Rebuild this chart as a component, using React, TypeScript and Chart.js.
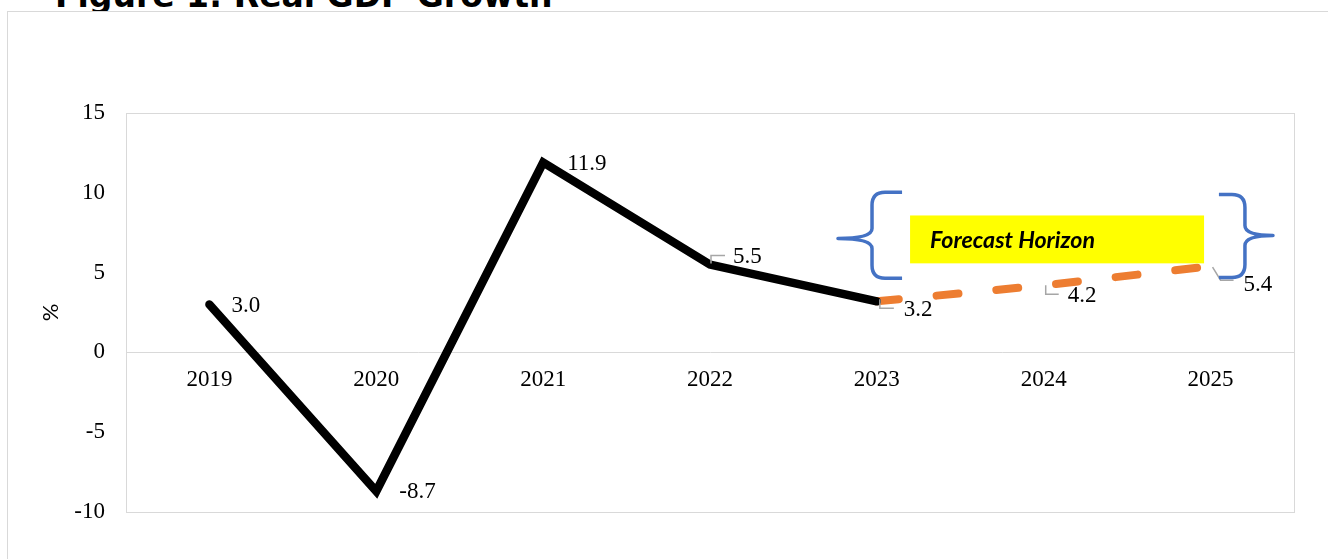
import React, { useEffect, useRef } from 'react';
import { Chart, registerables } from 'chart.js';

Chart.register(...registerables);

// ---- data ----
const chartTitle = 'Figure 1: Real GDP Growth';
const years = ['2019', '2020', '2021', '2022', '2023', '2024', '2025'];
const actualGrowth: (number | null)[] = [3.0, -8.7, 11.9, 5.5, 3.2, null, null];
const forecastGrowth: (number | null)[] = [null, null, null, null, 3.2, 4.2, 5.4];
const yMin = -10;
const yMax = 15;
const yStep = 5;
const yAxisTitle = '%';
const annotationText = 'Forecast Horizon';

// ---- label placement (style, in px relative to point) ----
const labelPlacement: { dx: number; dy: number; leader?: number[][] }[] = [
  { dx: 22, dy: 1 },
  { dx: 23, dy: 1 },
  { dx: 24, dy: 1 },
  { dx: 23, dy: -8, leader: [[1, -1], [1, -9], [15, -9]] },
  { dx: 27, dy: 9, leader: [[3, -2], [3, 7], [17, 7]] },
  { dx: 24, dy: 11, leader: [[2, 0], [2, 9], [15, 9]] },
  { dx: 33, dy: 19, leader: [[2, 1], [10, 14], [23, 14]] },
];

// annotation geometry in axis units (category index / value)
const boxArea = { x0: 4.199, x1: 5.961, yTop: 8.58, yBottom: 5.58 };
const leftBrace = { tip: 3.767, stem: 3.971, arm: 4.151, top: 10.03, bottom: 4.64, mid: 7.14 };
const rightBrace = { tip: 6.374, stem: 6.206, arm: 6.05, top: 9.9, bottom: 4.7, mid: 7.33 };

const serif = '"Liberation Serif", "Times New Roman", serif';

const decorPlugin = {
  id: 'decor',
  beforeDatasetsDraw(chart: any) {
    const { ctx, chartArea: a } = chart;
    ctx.save();
    ctx.strokeStyle = '#d9d9d9';
    ctx.lineWidth = 1;
    ctx.strokeRect(Math.round(a.left) + 0.5, Math.round(a.top) + 0.5, Math.round(a.right - a.left), Math.round(a.bottom - a.top));
    ctx.restore();
  },
  afterDatasetsDraw(chart: any) {
    const { ctx } = chart;
    ctx.save();
    ctx.font = `23px ${serif}`;
    ctx.fillStyle = '#000';
    ctx.textAlign = 'left';
    ctx.textBaseline = 'middle';
    for (let i = 0; i < years.length; i++) {
      const dsIndex = actualGrowth[i] != null ? 0 : 1;
      const value = actualGrowth[i] != null ? actualGrowth[i] : forecastGrowth[i];
      if (value == null) continue;
      const el = chart.getDatasetMeta(dsIndex).data[i];
      const p = labelPlacement[i];
      if (p.leader) {
        ctx.beginPath();
        ctx.strokeStyle = '#a6a6a6';
        ctx.lineWidth = 1.5;
        p.leader.forEach((pt, k) => {
          const X = el.x + pt[0];
          const Y = el.y + pt[1];
          if (k === 0) ctx.moveTo(X, Y);
          else ctx.lineTo(X, Y);
        });
        ctx.stroke();
      }
      ctx.fillText(value.toFixed(1), el.x + p.dx, el.y + p.dy);
    }
    ctx.restore();
  },
  afterDraw(chart: any) {
    const { ctx } = chart;
    const xs = chart.scales.x;
    const ys = chart.scales.y;
    const px = (v: number) => xs.getPixelForValue(v);
    const py = (v: number) => ys.getPixelForValue(v);
    ctx.save();
    // yellow box
    const bx0 = px(boxArea.x0), bx1 = px(boxArea.x1), by0 = py(boxArea.yTop), by1 = py(boxArea.yBottom);
    ctx.fillStyle = '#ffff00';
    ctx.fillRect(bx0, by0, bx1 - bx0, by1 - by0);
    // text
    ctx.fillStyle = '#000';
    ctx.font = 'italic bold 20px Lato, "Open Sans", sans-serif';
    const w20 = ctx.measureText(annotationText).width;
    const size = (20 * 165) / w20;
    ctx.font = `italic bold ${size.toFixed(2)}px Lato, "Open Sans", sans-serif`;
    ctx.textAlign = 'left';
    ctx.textBaseline = 'alphabetic';
    ctx.fillText(annotationText, bx0 + 20, by0 + 33);
    // braces
    const drawBrace = (b: any) => {
      const tip = px(b.tip), stem = px(b.stem), arm = px(b.arm);
      const top = py(b.top), bottom = py(b.bottom), mid = py(b.mid);
      const dir = arm > stem ? 1 : -1;
      const r = 13;
      const tr = 10;
      ctx.beginPath();
      ctx.moveTo(arm, top);
      ctx.lineTo(stem + dir * r, top);
      ctx.quadraticCurveTo(stem, top, stem, top + r);
      ctx.lineTo(stem, mid - tr);
      ctx.quadraticCurveTo(stem, mid, tip, mid);
      ctx.quadraticCurveTo(stem, mid, stem, mid + tr);
      ctx.lineTo(stem, bottom - r);
      ctx.quadraticCurveTo(stem, bottom, stem + dir * r, bottom);
      ctx.lineTo(arm, bottom);
      ctx.strokeStyle = '#4472c4';
      ctx.lineWidth = 3.5;
      ctx.lineJoin = 'round';
      ctx.stroke();
    };
    drawBrace(leftBrace);
    drawBrace(rightBrace);
    ctx.restore();
  },
};

export default function App() {
  const canvasRef = useRef<HTMLCanvasElement | null>(null);

  useEffect(() => {
    if (!canvasRef.current) return;
    const chart = new Chart(canvasRef.current, {
      type: 'line',
      data: {
        labels: years,
        datasets: [
          {
            label: 'Actual',
            data: actualGrowth,
            borderColor: '#000000',
            borderWidth: 8.5,
            borderCapStyle: 'round',
            borderJoinStyle: 'miter',
            pointRadius: 0,
            tension: 0,
            spanGaps: false,
          },
          {
            label: 'Forecast',
            data: forecastGrowth,
            borderColor: '#ed7d31',
            borderWidth: 8,
            borderDash: [22, 38],
            borderCapStyle: 'round',
            pointRadius: 0,
            tension: 0,
          },
        ],
      },
      options: {
        animation: false,
        responsive: true,
        maintainAspectRatio: false,
        layout: { padding: { top: 113, bottom: 47, left: 38, right: 34 } },
        plugins: { legend: { display: false }, tooltip: { enabled: false }, title: { display: false } },
        scales: {
          x: {
            type: 'category',
            position: { y: 0 } as any,
            offset: true,
            grid: { display: false, drawTicks: false, tickLength: 0 },
            border: { display: true, color: '#d9d9d9', width: 1 },
            ticks: { font: { family: serif, size: 23 }, color: '#000', padding: 14, maxRotation: 0, autoSkip: false },
          },
          y: {
            min: yMin,
            max: yMax,
            grid: { display: false, drawTicks: false, tickLength: 0 },
            border: { display: false },
            ticks: { stepSize: yStep, font: { family: serif, size: 23 }, color: '#000', padding: 21 },
            title: {
              display: true,
              text: yAxisTitle,
              font: { family: 'Lato, "Open Sans", sans-serif', size: 22 },
              color: '#000',
              padding: 0,
            },
            afterFit: (scale: any) => {
              scale.width = 88;
            },
          },
        },
      },
      plugins: [decorPlugin],
    } as any);
    return () => chart.destroy();
  }, []);

  return (
    <div style={{ position: 'fixed', left: 0, top: 0, width: 1328, height: 559, overflow: 'hidden', background: '#fff' }}>
      <div
        style={{
          position: 'absolute',
          left: 7,
          top: 11,
          width: 1400,
          height: 700,
          border: '1px solid #d9d9d9',
          boxSizing: 'border-box',
        }}
      />
      <div style={{ position: 'absolute', left: 55, top: 0, width: 600, height: 11, overflow: 'hidden' }}>
        <div
          style={{
            position: 'absolute',
            left: 0,
            top: -21,
            font: 'bold 33px "DejaVu Sans", sans-serif',
            lineHeight: '33px',
            whiteSpace: 'nowrap',
            color: '#000',
          }}
        >
          {chartTitle}
        </div>
      </div>
      <div style={{ position: 'absolute', left: 0, top: 0, width: 1328, height: 559 }}>
        <canvas ref={canvasRef} />
      </div>
    </div>
  );
}
